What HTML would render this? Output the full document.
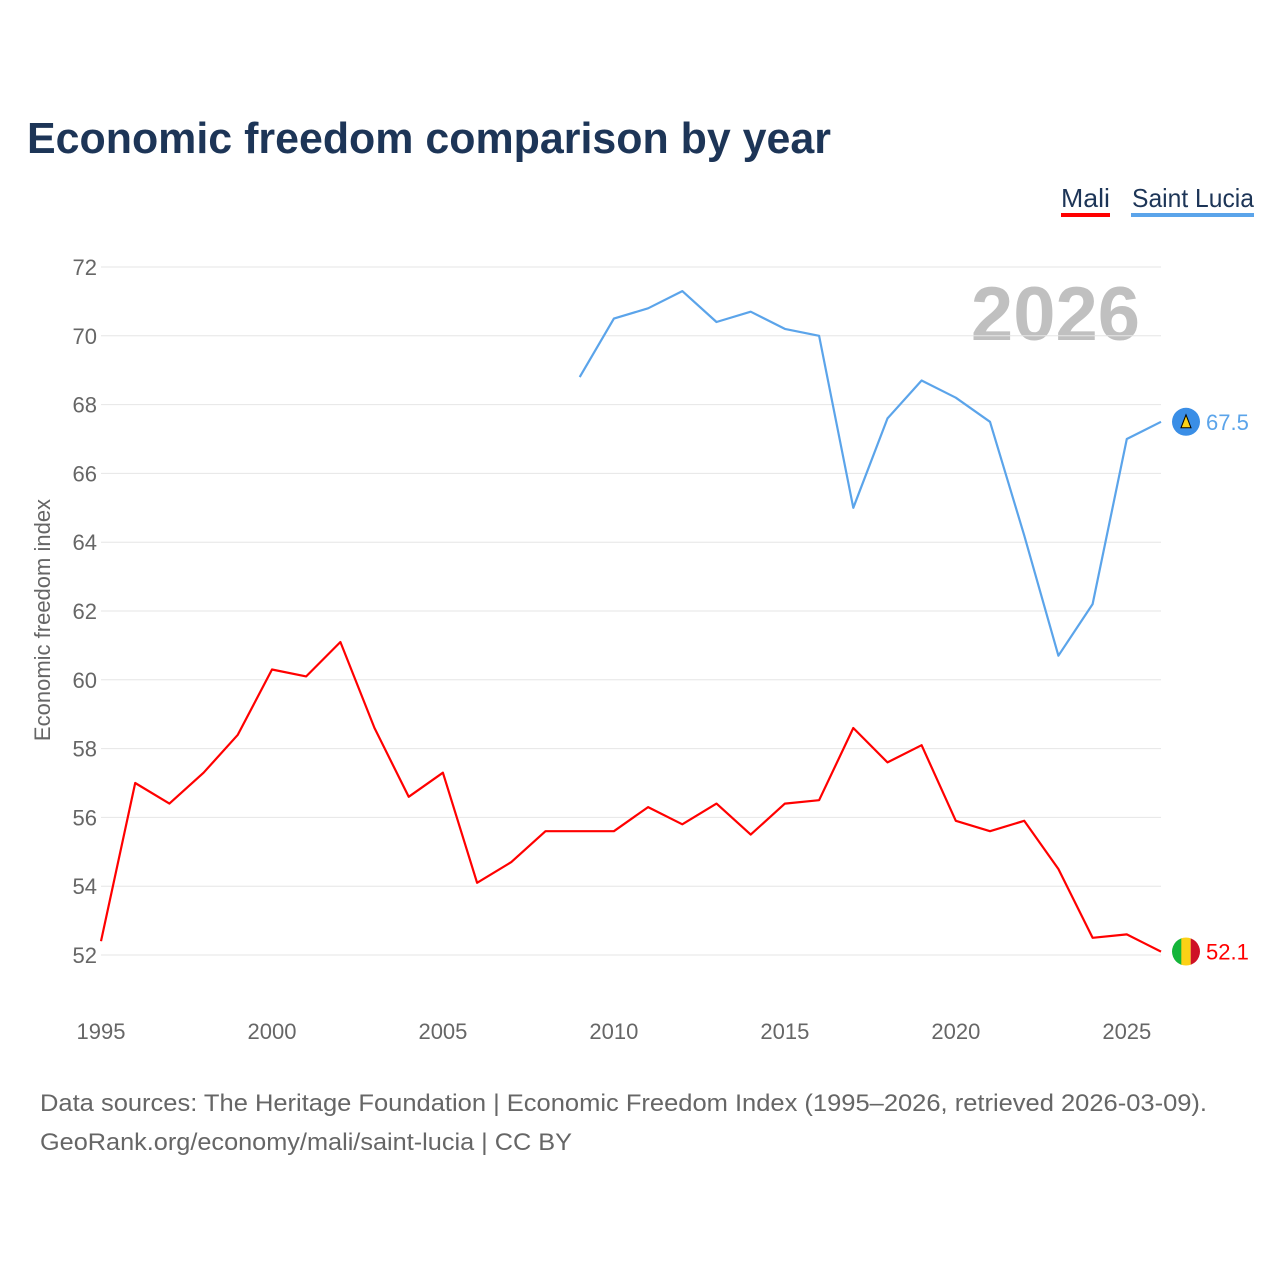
<!DOCTYPE html>
<html><head><meta charset="utf-8">
<style>
body{margin:0;background:#fff;font-family:"Liberation Sans",sans-serif;}
#wrap{position:relative;width:1280px;height:1280px;overflow:hidden;}
</style></head>
<body>
<div id="wrap">
<svg id="chart" width="1280" height="1280">
<text x="27" y="153" font-size="44" font-weight="bold" fill="#1d3557" textLength="804" lengthAdjust="spacingAndGlyphs">Economic freedom comparison by year</text>
<g>
<text x="1061" y="207" font-size="26" fill="#1d3557" textLength="49" lengthAdjust="spacingAndGlyphs">Mali</text>
<rect x="1061" y="213" width="49" height="4" fill="#ff0000"/>
</g>
<g>
<text x="1132" y="207" font-size="26" fill="#1d3557" textLength="122" lengthAdjust="spacingAndGlyphs">Saint Lucia</text>
<rect x="1131" y="213" width="123" height="4" fill="#5ba4ea"/>
</g>
<text x="1140" y="340" font-size="76" font-weight="bold" fill="#c0c0c0" text-anchor="end">2026</text>
<g id="grid"></g>
<g id="series"></g>
<text transform="translate(50,620) rotate(-90)" font-size="22" fill="#666" text-anchor="middle">Economic freedom index</text>
<text x="40" y="1111" font-size="24" fill="#666" textLength="1167" lengthAdjust="spacingAndGlyphs">Data sources: The Heritage Foundation | Economic Freedom Index (1995–2026, retrieved 2026-03-09).</text>
<text x="40" y="1150" font-size="24" fill="#666" textLength="532" lengthAdjust="spacingAndGlyphs">GeoRank.org/economy/mali/saint-lucia | CC BY</text>
</svg>
</div>
<script>
const years=[1995,1996,1997,1998,1999,2000,2001,2002,2003,2004,2005,2006,2007,2008,2009,2010,2011,2012,2013,2014,2015,2016,2017,2018,2019,2020,2021,2022,2023,2024,2025,2026];
const maliValues=[52.4,57.0,56.4,57.3,58.4,60.3,60.1,61.1,58.6,56.6,57.3,54.1,54.7,55.6,55.6,55.6,56.3,55.8,56.4,55.5,56.4,56.5,58.6,57.6,58.1,55.9,55.6,55.9,54.5,52.5,52.6,52.1];
const luciaValues=[null,null,null,null,null,null,null,null,null,null,null,null,null,null,68.8,70.5,70.8,71.3,70.4,70.7,70.2,70.0,65.0,67.6,68.7,68.2,67.5,64.2,60.7,62.2,67.0,67.5];
const yTicks=[52,54,56,58,60,62,64,66,68,70,72];
const xTicks=[1995,2000,2005,2010,2015,2020,2025];
const NS="http://www.w3.org/2000/svg";
const x=v=>101+(v-1995)*(1161-101)/31;
const y=v=>955-(v-52)*(955-267)/20;
function mk(tag,attrs,parent){const e=document.createElementNS(NS,tag);for(const k in attrs)e.setAttribute(k,attrs[k]);parent.appendChild(e);return e;}
const grid=document.getElementById('grid'),ser=document.getElementById('series');
yTicks.forEach(t=>{
 const l=mk('line',{x1:101,x2:1161,y1:y(t),y2:y(t),stroke:'#e6e6e6','stroke-width':1},grid);
 
 
 const tx=mk('text',{x:97,y:y(t)+8,'font-size':22,fill:'#666','text-anchor':'end'},grid);
 tx.textContent=t;
 
 
});
xTicks.forEach(t=>{
 const tx=mk('text',{x:x(t),y:1039,'font-size':22,fill:'#666','text-anchor':'middle'},grid);
 tx.textContent=t;
 
 
});
function line(vals,color,name){
 let d='';vals.forEach((v,i)=>{if(v==null)return;d+=(d?'L':'M')+x(years[i]).toFixed(1)+','+y(v).toFixed(1);});
 const p=mk('path',{d:d,fill:'none',stroke:color,'stroke-width':2.2,'stroke-linejoin':'round'},ser);
 
 
}
line(maliValues,'#ff0000','mali-line');
line(luciaValues,'#5ba4ea','saint-lucia-line');
const lm=maliValues[maliValues.length-1], ll=luciaValues[luciaValues.length-1];
const cx=1186;
const g1=mk('g',{},ser);


mk('defs',{},g1).innerHTML='<clipPath id="cm"><circle cx="'+cx+'" cy="'+y(lm)+'" r="14"/></clipPath>';
const gc=mk('g',{'clip-path':'url(#cm)'},g1);
mk('rect',{x:cx-14,y:y(lm)-14,width:10,height:28,fill:'#14b53a'},gc);
mk('rect',{x:cx-4.7,y:y(lm)-14,width:9.4,height:28,fill:'#fcd116'},gc);
mk('rect',{x:cx+4.7,y:y(lm)-14,width:10,height:28,fill:'#ce1126'},gc);
const t1=mk('text',{x:1206,y:y(lm)+8,'font-size':22,fill:'#ff0000'},ser);
t1.textContent=lm.toFixed(1);


const g2=mk('g',{},ser);


mk('circle',{cx:cx,cy:y(ll),r:14,fill:'#3a8ee6'},g2);
mk('polygon',{points:`${cx},${y(ll)-7} ${cx+5},${y(ll)+6} ${cx-5},${y(ll)+6}`,fill:'#fcd116',stroke:'#000','stroke-width':1},g2);
const t2=mk('text',{x:1206,y:y(ll)+8,'font-size':22,fill:'#5ba4ea'},ser);
t2.textContent=ll.toFixed(1);


</script>
</body></html>
